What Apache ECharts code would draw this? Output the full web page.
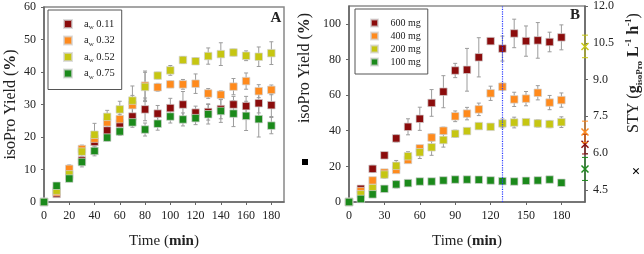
<!DOCTYPE html>
<html>
<head>
<meta charset="utf-8">
<script src="https://cdn.jsdelivr.net/npm/echarts@6/dist/echarts.min.js"></script>
<style>
  html, body { margin: 0; padding: 0; background: #fff; }
  #chart { width: 644px; height: 254px; }
</style>
</head>
<body>
<div id="chart"></div>
<script>
  // panel A: yield vs time for different water activities
  var timeA = [0, 10, 20, 30, 40, 50, 60, 70, 80, 90, 100, 110, 120, 130, 140, 150, 160, 170, 180];
  var namesA = ['aw 0.11', 'aw 0.32', 'aw 0.52', 'aw 0.75'];
  var aw011 = [0, 2.5, 8.0, 12.8, 18.5, 22.0, 24.2, 26.3, 28.5, 27.2, 28.9, 30.0, 27.5, 27.7, 28.6, 30.0, 29.5, 30.4, 29.8];
  var aw032 = [0, 3.0, 10.2, 16.3, 19.5, 24.5, 25.5, 29.8, 35.8, 35.3, 36.2, 36.2, 36.4, 33.4, 33.0, 35.5, 37.2, 34.1, 34.5];
  var aw052 = [0, 3.5, 8.5, 15.5, 20.7, 26.2, 28.5, 31.2, 35.4, 38.9, 40.5, 43.7, 43.3, 44.9, 45.5, 46.0, 45.0, 44.7, 45.8];
  var aw075 = [0, 5.0, 7.2, 12.3, 15.7, 19.8, 21.7, 24.5, 22.3, 24.1, 26.3, 25.4, 25.8, 27.0, 28.0, 27.2, 26.5, 25.5, 23.5];
  var err011 = [0, 0.5, 0.8, 0.8, 1.2, 1.5, 1.5, 2.5, 3.5, 2.5, 3.0, 4.0, 2.0, 2.5, 3.0, 2.5, 3.0, 3.0, 3.5];
  var err032 = [0, 0.6, 1.2, 1.2, 1.5, 1.5, 1.5, 3.0, 4.5, 1.2, 1.0, 1.5, 3.0, 1.5, 1.2, 2.5, 2.5, 2.0, 1.5];
  var err052 = [0, 0.8, 0.8, 1.5, 3.5, 2.0, 2.5, 4.5, 4.5, 1.0, 1.5, 1.0, 1.0, 2.5, 3.5, 1.0, 1.5, 3.0, 3.5];
  var err075 = [0, 1.0, 0.8, 1.5, 1.5, 1.0, 1.2, 1.5, 2.0, 2.0, 2.0, 2.0, 2.0, 3.0, 3.5, 4.0, 4.5, 5.5, 2.5];

  // panel B: yield vs time for different enzyme loads
  var timeB = [0, 10, 20, 30, 40, 50, 60, 70, 80, 90, 100, 110, 120, 130, 140, 150, 160, 170, 180];
  var namesB = ['600 mg', '400 mg', '200 mg', '100 mg'];
  var mg600 = [0, 7.4, 18.6, 26.2, 35.7, 42.2, 46.7, 55.6, 61.9, 73.8, 74.2, 81.2, 90.3, 86.1, 94.6, 90.3, 90.7, 89.8, 92.4];
  var mg400 = [0, 6.1, 12.1, 16.5, 18.0, 23.6, 30.1, 36.2, 40.0, 48.1, 49.6, 52.0, 61.0, 64.7, 57.6, 58.0, 61.3, 55.8, 57.2];
  var mg200 = [0, 4.3, 7.8, 15.4, 20.3, 25.7, 27.9, 30.7, 34.8, 38.3, 39.8, 42.6, 42.2, 44.1, 44.6, 44.8, 44.1, 43.7, 44.8];
  var mg100 = [0, 1.7, 4.3, 7.4, 9.9, 10.6, 11.5, 11.5, 12.1, 12.6, 12.6, 12.5, 12.1, 11.7, 11.5, 11.9, 12.1, 12.6, 10.8];
  var err600 = [0, 1.5, 2.0, 1.5, 2.0, 4.5, 6.5, 7.5, 9.0, 4.0, 12.0, 11.0, 1.5, 7.0, 8.0, 8.5, 10.0, 5.5, 7.0];
  var err400 = [0, 1.0, 1.5, 1.5, 1.5, 1.5, 1.5, 2.0, 2.0, 3.0, 3.5, 3.5, 4.0, 2.0, 4.0, 4.0, 4.0, 4.0, 4.0];
  var err200 = [0, 1.0, 1.0, 2.0, 3.0, 2.5, 3.5, 4.5, 4.0, 2.0, 1.5, 1.5, 1.5, 2.5, 3.0, 1.5, 2.0, 2.0, 3.0];
  var err100 = [0, 0.8, 1.0, 1.5, 2.0, 1.5, 1.5, 1.0, 1.5, 1.5, 1.0, 1.0, 1.0, 1.0, 1.0, 1.0, 1.0, 1.0, 1.0];
  // STY at the end (plotted at t = 200 on the right axis), same order as namesB
  var styTime = 200;
  var styVal = [6.36, 6.86, 10.35, 5.35];
  var styErr = [0.40, 0.44, 0.46, 0.47];

  var colors = ['#8b0c0c', '#ff8a1c', '#c6c612', '#1b8a1b'];
  var serif = "'Liberation Serif', 'Times New Roman', serif";

  var chart = echarts.init(document.getElementById('chart'));

  function pairs(t, v) {
    return t.map(function (x, i) { return [x, v[i]]; });
  }
  function triples(t, v, e) {
    return t.map(function (x, i) { return [x, v[i], e[i]]; });
  }

  function errorBar(color, capW) {
    return function (params, api) {
      var x = api.value(0), y = api.value(1), e = api.value(2);
      if (!e) return { type: 'group', children: [] };
      var top = api.coord([x, y + e]);
      var bot = api.coord([x, y - e]);
      var st = { stroke: color, lineWidth: 1 };
      return {
        type: 'group',
        children: [
          { type: 'line', shape: { x1: top[0], y1: top[1], x2: bot[0], y2: bot[1] }, style: st },
          { type: 'line', shape: { x1: top[0] - capW, y1: top[1], x2: top[0] + capW, y2: top[1] }, style: st },
          { type: 'line', shape: { x1: bot[0] - capW, y1: bot[1], x2: bot[0] + capW, y2: bot[1] }, style: st }
        ]
      };
    };
  }

  function styMark(color) {
    var bar = errorBar(color, 3);
    return function (params, api) {
      var g = bar(params, api);
      var c = api.coord([api.value(0), api.value(1)]);
      var s = 3.5;
      var st = { stroke: color, lineWidth: 1.5 };
      g.children.push({ type: 'line', shape: { x1: c[0] - s, y1: c[1] - s, x2: c[0] + s, y2: c[1] + s }, style: st });
      g.children.push({ type: 'line', shape: { x1: c[0] - s, y1: c[1] + s, x2: c[0] + s, y2: c[1] - s }, style: st });
      return g;
    };
  }

  var seriesA = [aw011, aw032, aw052, aw075];
  var errA = [err011, err032, err052, err075];
  var seriesB = [mg600, mg400, mg200, mg100];
  var errB = [err600, err400, err200, err100];

  var series = [];
  // grey error bars under the squares
  errA.forEach(function (e, i) {
    series.push({
      type: 'custom', xAxisIndex: 0, yAxisIndex: 0, z: 1, silent: true,
      renderItem: errorBar('#9c9c9c', 2),
      data: triples(timeA, seriesA[i], e)
    });
  });
  errB.forEach(function (e, i) {
    series.push({
      type: 'custom', xAxisIndex: 1, yAxisIndex: 1, z: 1, silent: true,
      renderItem: errorBar('#9c9c9c', 2),
      data: triples(timeB, seriesB[i], e)
    });
  });
  seriesA.forEach(function (v, i) {
    series.push({
      name: namesA[i], type: 'scatter', xAxisIndex: 0, yAxisIndex: 0, z: 3,
      symbol: 'rect', symbolSize: 7.5,
      itemStyle: { color: colors[i], borderColor: 'rgba(210,210,210,0.7)', borderWidth: 1, opacity: 1 },
      data: pairs(timeA, v)
    });
  });
  seriesB.forEach(function (v, i) {
    var s = {
      name: namesB[i], type: 'scatter', xAxisIndex: 1, yAxisIndex: 1, z: 3,
      symbol: 'rect', symbolSize: 7.5,
      itemStyle: { color: colors[i], borderColor: 'rgba(210,210,210,0.7)', borderWidth: 1, opacity: 1 },
      data: pairs(timeB, v)
    };
    if (i === 0) {
      s.markLine = {
        silent: true, symbol: ['none', 'none'], label: { show: false },
        lineStyle: { color: '#2b3bff', type: 'dotted', width: 1.2 },
        data: [{ xAxis: 130 }]
      };
    }
    series.push(s);
  });
  styVal.forEach(function (v, i) {
    series.push({
      type: 'custom', xAxisIndex: 1, yAxisIndex: 2, z: 4, silent: true,
      renderItem: styMark(colors[i]),
      data: [[styTime, v, styErr[i]]]
    });
  });

  var tickLabel = { color: '#222', fontFamily: serif, fontSize: 12 };
  var axisLine = { lineStyle: { color: '#666', width: 1.5 } };
  var axisTick = { length: 3, lineStyle: { color: '#666' } };

  var legendA = {
    data: namesA, orient: 'vertical', left: 48, top: 10,
    itemWidth: 8, itemHeight: 8, itemGap: 3.5, icon: 'rect',
    borderColor: '#555', borderWidth: 1, padding: [8, 7, 9, 15],
    formatter: function (n) { return '{g|}{t|a}{s|w}{t|' + n.slice(2) + '}'; },
    textStyle: {
      rich: {
        g: { width: 7 },
        t: { fontFamily: serif, fontSize: 10.5, color: '#222', lineHeight: 14 },
        s: { fontFamily: serif, fontSize: 7, color: '#222', lineHeight: 14, verticalAlign: 'bottom' }
      }
    }
  };
  var legendB = {
    data: namesB, orient: 'vertical', left: 355, top: 9,
    itemWidth: 7, itemHeight: 7, itemGap: 1, icon: 'rect',
    borderColor: '#555', borderWidth: 1, padding: [8, 7, 6, 15],
    formatter: function (n) { return '{g|}{t|' + n + '}'; },
    textStyle: {
      rich: {
        g: { width: 7.5 },
        t: { fontFamily: serif, fontSize: 10, color: '#222', lineHeight: 12 }
      }
    }
  };

  var option = {
    animation: false,
    backgroundColor: '#fff',
    legend: [legendA, legendB],
    grid: [
      { left: 44, top: 7, width: 240, height: 197, show: true, borderColor: '#888', borderWidth: 1.5 },
      { left: 349, top: 4, width: 236, height: 198, show: true, borderColor: '#555', borderWidth: 1.2 }
    ],
    xAxis: [
      {
        type: 'value', gridIndex: 0, min: 0, max: 190, interval: 20,
        splitLine: { show: false }, axisLine: axisLine, axisTick: axisTick,
        axisLabel: Object.assign({ showMaxLabel: false, margin: 8 }, tickLabel),
        name: 'Time ({b|min})', nameLocation: 'middle', nameGap: 32,
        nameTextStyle: {
          fontFamily: serif, fontSize: 15, color: '#222',
          rich: { b: { fontFamily: serif, fontSize: 15, fontWeight: 'bold', color: '#222' } }
        }
      },
      {
        type: 'value', gridIndex: 1, min: 0, max: 200, interval: 30,
        splitLine: { show: false }, axisLine: axisLine, axisTick: axisTick,
        axisLabel: Object.assign({ showMaxLabel: false, margin: 8 }, tickLabel),
        name: 'Time ({b|min})', nameLocation: 'middle', nameGap: 32,
        nameTextStyle: {
          fontFamily: serif, fontSize: 15, color: '#222',
          rich: { b: { fontFamily: serif, fontSize: 15, fontWeight: 'bold', color: '#222' } }
        }
      }
    ],
    yAxis: [
      {
        type: 'value', gridIndex: 0, min: 0, max: 60, interval: 10,
        splitLine: { show: false }, axisLine: axisLine, axisTick: axisTick,
        axisLabel: Object.assign({ margin: 8 }, tickLabel),
        name: 'isoPro Yield ({b|%})', nameLocation: 'middle', nameGap: 25,
        nameTextStyle: {
          fontFamily: serif, fontSize: 16, color: '#222',
          rich: { b: { fontFamily: serif, fontSize: 16, fontWeight: 'bold', color: '#222' } }
        }
      },
      {
        type: 'value', gridIndex: 1, min: 0, max: 110, interval: 20,
        splitLine: { show: false }, axisLine: axisLine, axisTick: axisTick,
        axisLabel: Object.assign({ showMaxLabel: false, margin: 8 }, tickLabel)
      },
      {
        type: 'value', gridIndex: 1, position: 'right', min: 4, max: 12,
        splitLine: { show: false }, axisLine: { show: true, lineStyle: { color: '#666', width: 1.5 } },
        axisTick: { show: true, length: 3, lineStyle: { color: '#666' }, customValues: [4.5, 6, 7.5, 9, 10.5, 12] },
        axisLabel: Object.assign({
          margin: 8, customValues: [4.5, 6, 7.5, 9, 10.5, 12],
          formatter: function (v) { return v.toFixed(1); }
        }, tickLabel)
      }
    ],
    graphic: [
      { type: 'text', x: 276, y: 18, style: { text: 'A', font: 'bold 15px ' + serif, fill: '#222', align: 'center', verticalAlign: 'middle' } },
      { type: 'text', x: 575, y: 15, style: { text: 'B', font: 'bold 15px ' + serif, fill: '#222', align: 'center', verticalAlign: 'middle' } },
      {
        type: 'text', x: 305, y: 68, rotation: Math.PI / 2,
        style: {
          text: 'isoPro Yield ({b|%})', font: '16px ' + serif, fill: '#222', align: 'center', verticalAlign: 'middle',
          rich: { b: { font: 'bold 16px ' + serif, fill: '#222' } }
        }
      },
      { type: 'rect', shape: { x: 302, y: 159, width: 6, height: 6 }, style: { fill: '#000' } },
      {
        type: 'text', x: 634, y: 73, rotation: Math.PI / 2,
        style: {
          text: 'STY ({b|g}{sub|isoPro} {b|L}{sup|-1} {b|h}{sup|-1})', font: '16px ' + serif, fill: '#222',
          align: 'center', verticalAlign: 'middle', lineHeight: 20,
          rich: {
            b: { font: 'bold 16px ' + serif, fill: '#222', lineHeight: 20 },
            sub: { font: 'bold 9px ' + serif, fill: '#222', lineHeight: 20, verticalAlign: 'bottom' },
            sup: { font: 'bold 9px ' + serif, fill: '#222', lineHeight: 20, verticalAlign: 'top' }
          }
        }
      },
      { type: 'text', x: 636, y: 172, style: { text: '×', font: 'bold 15px ' + serif, fill: '#000', align: 'center', verticalAlign: 'middle' } }
    ],
    series: series
  };

  chart.setOption(option);
</script>
</body>
</html>
